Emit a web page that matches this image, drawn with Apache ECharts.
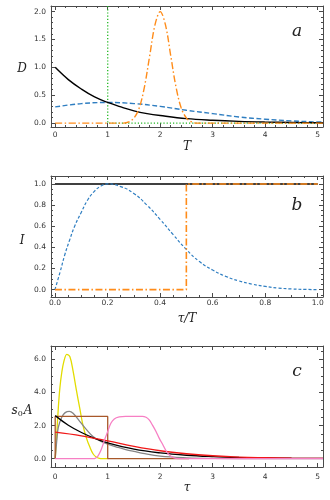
<!DOCTYPE html>
<html>
<head>
<meta charset="utf-8">
<script src="https://cdn.jsdelivr.net/npm/echarts@6/dist/echarts.min.js"></script>
<style>
html, body { margin: 0; padding: 0; background: #fff; }
#chart { width: 330px; height: 500px; }
</style>
</head>
<body>
<div id="chart"></div>
<script>
// panel a : D(T)
var aT = [0, 0.25, 0.5, 0.75, 1, 1.25, 1.5, 1.75, 2, 2.5, 3, 3.5, 4, 4.5, 5, 5.1];
var aBlack = [1.0, 0.78, 0.61, 0.47, 0.37, 0.29, 0.22, 0.17, 0.135, 0.08, 0.05, 0.03, 0.018, 0.011, 0.007, 0.006];
var aBlueT = [0, 0.5, 1, 1.5, 2, 2.5, 3, 3.5, 4, 4.5, 5, 5.1];
var aBlue = [0.29, 0.35, 0.37, 0.35, 0.30, 0.23, 0.17, 0.11, 0.07, 0.04, 0.02, 0.018];
var aOrangeT = [0, 0.5, 1, 1.3, 1.4, 1.5, 1.6, 1.7, 1.8, 1.9, 2.0, 2.1, 2.2, 2.3, 2.4, 2.5, 2.6, 2.7, 3, 4, 5.1];
var aOrange = [0, 0, 0, 0, 0.02, 0.09, 0.27, 0.65, 1.21, 1.76, 2.0, 1.76, 1.21, 0.65, 0.27, 0.09, 0.02, 0, 0, 0, 0];
var aGreenT = [1, 1, 5.1];
var aGreen = [2.1, 0, 0];
var aXTicks = [0, 1, 2, 3, 4, 5];
var aYTicks = [0, 0.5, 1, 1.5, 2];

// panel b : I(tau/T)
var bX = [0, 0.02, 0.0375, 0.056, 0.075, 0.1, 0.125, 0.15, 0.175, 0.2, 0.25, 0.3, 0.35, 0.4, 0.45, 0.5,
          0.55, 0.6, 0.65, 0.7, 0.75, 0.8, 0.85, 0.9, 0.95, 1.0];
var bBlue = [0, 0.17, 0.33, 0.47, 0.6, 0.73, 0.85, 0.93, 0.98, 1.0, 0.975, 0.91, 0.8, 0.665, 0.52, 0.38,
             0.265, 0.185, 0.125, 0.082, 0.052, 0.03, 0.015, 0.006, 0.002, 0];
var bBlackX = [0, 1];
var bBlack = [1, 1];
var bOrangeX = [0, 0.5, 0.5, 1];
var bOrange = [0, 0, 1, 1];
var bTicks = [0, 0.2, 0.4, 0.6, 0.8, 1.0];

// panel c : s0 A(tau)
var cBlackT = [0, 0.25, 0.5, 0.75, 1, 1.5, 2, 2.5, 3, 3.5, 4, 4.5, 5, 5.1];
var cBlack = [2.6, 2.02, 1.58, 1.23, 0.96, 0.58, 0.35, 0.21, 0.13, 0.08, 0.05, 0.03, 0.02, 0.016];
var cRedT = [0, 0.5, 1, 1.5, 2, 2.5, 3, 3.5, 4, 4.5, 5, 5.1];
var cRed = [1.6, 1.38, 1.08, 0.75, 0.48, 0.3, 0.18, 0.1, 0.06, 0.03, 0.02, 0.015];
var cYellowT = [0, 0.03, 0.06, 0.09, 0.125, 0.16, 0.22, 0.28, 0.34, 0.4, 0.47, 0.53, 0.6, 0.66, 0.72, 0.78, 0.84, 0.9, 1.0];
var cYellow = [0, 1.5, 3.1, 4.3, 5.2, 5.8, 6.3, 6.15, 5.3, 4.2, 3.0, 2.0, 1.2, 0.7, 0.3, 0.1, 0.02, 0, 0];
var cGrayT = [0, 0.03, 0.06, 0.125, 0.19, 0.27, 0.34, 0.47, 0.6, 0.72, 0.85, 1.0, 1.2, 1.36, 1.5, 1.67, 2.0, 2.5, 3, 4, 5.1];
var cGray = [0, 1.1, 1.9, 2.5, 2.78, 2.86, 2.74, 2.24, 1.74, 1.34, 1.08, 0.88, 0.68, 0.54, 0.44, 0.32, 0.15, 0.05, 0.015, 0.002, 0];
var cBrownT = [0, 0, 1, 1, 2.55];
var cBrown = [0, 2.55, 2.55, 0, 0];
var cPinkT = [0, 0.5, 0.7, 0.75, 0.81, 0.875, 0.94, 1.0, 1.06, 1.125, 1.22, 1.34, 1.5, 1.66, 1.73, 1.79, 1.85,
              1.92, 1.98, 2.05, 2.11, 2.17, 2.23, 2.3, 2.4, 3, 4, 5.1];
var cPink = [0, 0, 0, 0.01, 0.14, 0.54, 1.14, 1.64, 2.14, 2.4, 2.52, 2.56, 2.56, 2.56, 2.5, 2.34, 2.04,
             1.64, 1.24, 0.84, 0.48, 0.24, 0.1, 0.02, 0, 0, 0, 0];
var cXTicks = [0, 1, 2, 3, 4, 5];
var cYTicks = [0, 2, 4, 6];

// minor tick positions between the labelled ones
function steps(from, to, step) {
    var out = [];
    for (var v = from; v <= to + 1e-9; v += step) out.push(+v.toFixed(4));
    return out;
}

var frameColor = '#4a4a4a';
var one = function (v) { return v.toFixed(1); };
var whole = function (v) { return String(Math.round(v)); };

// labelled major ticks + minor ticks, on both sides (gives the closed frame)
function frame(grid, min, max, majors, minors, fmt, margin, sides) {
    var list = [];
    sides.forEach(function (p, k) {
        list.push({
            type: 'value', gridIndex: grid, position: p, min: min, max: max,
            axisLine: { show: true, onZero: false, lineStyle: { color: frameColor, width: 1 } },
            axisTick: { show: true, inside: true, length: 4, customValues: majors, lineStyle: { color: frameColor } },
            axisLabel: {
                show: k === 0, customValues: majors, formatter: fmt, margin: margin,
                fontSize: 7.5, color: '#333', fontFamily: 'DejaVu Sans'
            },
            splitLine: { show: false }
        });
        list.push({
            type: 'value', gridIndex: grid, position: p, min: min, max: max,
            axisLine: { show: false, onZero: false },
            axisTick: { show: true, inside: true, length: 2, customValues: minors, lineStyle: { color: frameColor } },
            axisLabel: { show: false },
            splitLine: { show: false }
        });
    });
    return list;
}

function line(g, xs, ys, color, width, type, smooth) {
    return {
        type: 'line',
        xAxisIndex: 4 * g,
        yAxisIndex: 4 * g,
        data: xs.map(function (x, i) { return [x, ys[i]]; }),
        symbol: 'none',
        smooth: smooth || false,
        lineStyle: { color: color, width: width, type: type },
        silent: true
    };
}

var xAxes = [].concat(
    frame(0, -0.08, 5.1, aXTicks, steps(0, 5.1, 0.2), whole, 4, ['bottom', 'top']),
    frame(1, -0.015, 1.02, bTicks, steps(0, 1.02, 0.05), one, 2, ['bottom', 'top']),
    frame(2, -0.08, 5.1, cXTicks, steps(0, 5.1, 0.2), whole, 6, ['bottom', 'top'])
);
var yAxes = [].concat(
    frame(0, -0.07, 2.1, aYTicks, steps(0, 2.1, 0.1), one, 5, ['left', 'right']),
    frame(1, -0.07, 1.075, bTicks, steps(-0.05, 1.075, 0.05), one, 5, ['left', 'right']),
    frame(2, -0.5, 6.8, cYTicks, steps(-0.5, 6.8, 0.5), one, 5, ['left', 'right'])
);

var dashDot = [7, 2.5, 1.5, 2.5];
var blue = '#2f7ec1';
var orange = '#ff8c1a';

var serif = 'DejaVu Serif';
function label(x, y, text, size, extra) {
    var style = { text: text, x: x, y: y, fill: '#222', fontSize: size, fontFamily: serif,
                  fontStyle: 'italic', align: 'center', verticalAlign: 'middle' };
    if (extra) style.rich = extra;
    return { type: 'text', style: style, silent: true };
}

var chart = echarts.init(document.getElementById('chart'), null, { renderer: 'canvas' });
chart.setOption({
    animation: false,
    backgroundColor: '#fff',
    grid: [
        { left: 51, right: 7, top: 6, height: 121 },
        { left: 51, right: 7, top: 176, height: 121 },
        { left: 51, right: 7, top: 346, height: 121 }
    ],
    xAxis: xAxes,
    yAxis: yAxes,
    series: [
        line(0, aGreenT, aGreen, '#22b822', 1.3, [1.2, 2], false),
        line(0, aBlueT, aBlue, blue, 1.4, [5, 2.5], 0.4),
        line(0, aT, aBlack, '#000', 1.4, 'solid', 0.4),
        line(0, aOrangeT, aOrange, orange, 1.4, dashDot, 0.35),

        line(1, bBlackX, bBlack, '#000', 1.4, 'solid', false),
        line(1, bX, bBlue, blue, 1.2, [3, 2], 0.5),
        line(1, bOrangeX, bOrange, orange, 1.6, dashDot, false),

        line(2, cYellowT, cYellow, '#e2dc00', 1.3, 'solid', 0.35),
        line(2, cGrayT, cGray, '#858585', 1.3, 'solid', 0.4),
        line(2, cBrownT, cBrown, '#a8582a', 1.3, 'solid', false),
        line(2, cBlackT, cBlack, '#000', 1.3, 'solid', 0.4),
        line(2, cRedT, cRed, '#f01818', 1.3, 'solid', 0.4),
        line(2, cPinkT, cPink, '#f77fc4', 1.3, 'solid', 0.35)
    ],
    graphic: [
        label(22, 69, 'D', 12),
        label(187, 147, 'T', 12),
        label(297, 32, 'a', 17),
        label(22, 241, 'I', 12),
        label(187, 319, 'τ/T', 12),
        label(297, 206, 'b', 17),
        label(22, 411, '{i|s}{s|0}{i|A}', 12, {
            i: { fontSize: 12, fontFamily: serif, fontStyle: 'italic', fill: '#222' },
            s: { fontSize: 8, fontFamily: serif, fill: '#222', verticalAlign: 'bottom', padding: [6, 1, 0, 0] }
        }),
        label(187, 488, 'τ', 12),
        label(297, 372, 'c', 17)
    ]
});
</script>
</body>
</html>
